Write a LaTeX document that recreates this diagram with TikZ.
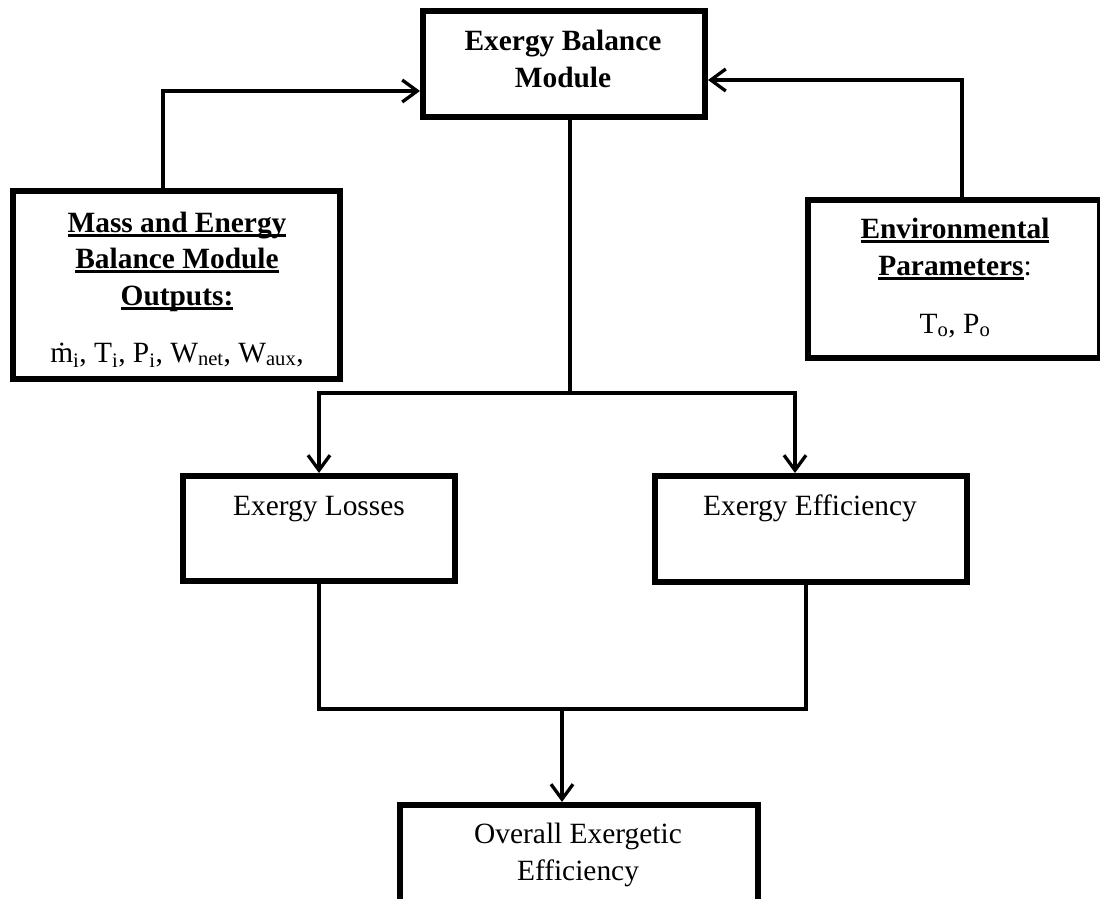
\documentclass[tikz,border=0pt]{standalone}
\usepackage{fontspec}
\setmainfont{Liberation Serif}
\usetikzlibrary{arrows.meta}

% underline with a heavy rule just below the baseline
\newcommand\ulbar[1]{\setbox0\hbox{#1}\rlap{\rule[-4.6pt]{\wd0}{2.8pt}}\box0}

\tikzset{
  block/.style={draw, line width=6pt, rectangle, inner sep=0pt, fill=white},
  % multi-line labels are placed by the baseline of their last line
  txt/.style={align=center, inner sep=0pt, anchor=base,
              font=\fontsize{29.4}{36.5}\selectfont},
  link/.style={line width=3.3pt},
  arr/.style={link, -{Straight Barb[length=15pt,width=22pt]}},
}

\begin{document}
\begin{tikzpicture}[x=1pt, y=1pt]
\useasboundingbox (0,0) rectangle (1100,-899);
\clip (0,0) rectangle (1100,-899);

% boxes
\node[block, minimum width=282, minimum height=106] (ebm) at (564,-64) {};
\node[block, minimum width=327, minimum height=188] (mass) at (176.5,-285) {};
\node[block, minimum width=292, minimum height=158] (env) at (953.5,-279) {};
\node[block, minimum width=272, minimum height=105] (loss) at (319,-528.5) {};
\node[block, minimum width=312, minimum height=106] (eff) at (811,-529) {};
\node[block, minimum width=358, minimum height=122] (overall) at (579,-866) {};

% labels
\node[txt] (ebmtext) at (563,-87) {\textbf{Exergy Balance}\\\textbf{Module}};
\node[txt] (masstext) at (177,-305)
  {\textbf{\ulbar{Mass and Energy}}\\\textbf{\ulbar{Balance Module}}\\\textbf{\ulbar{Outputs:}}};
\node[txt] (massvars) at (177,-362)
  {\.{m}\textsubscript{i}, T\textsubscript{i}, P\textsubscript{i}, W\textsubscript{net}, W\textsubscript{aux},};
\node[txt] (envtext) at (955,-275)
  {\textbf{\ulbar{Environmental}}\\\textbf{\ulbar{Parameters}}:};
\node[txt] (envvars) at (955,-333) {T\textsubscript{o}, P\textsubscript{o}};
\node[txt] (losstext) at (319,-515) {Exergy Losses};
\node[txt] (efftext) at (810,-515) {Exergy Efficiency};
\node[txt] (overalltext) at (578,-880) {Overall Exergetic\\Efficiency};

% inputs into the exergy balance module
\coordinate (inL) at (163,-91);
\coordinate (inR) at (962,-80);
\draw[arr] (mass.north -| inL) |- (ebm.west |- inL);
\draw[arr] (env.north -| inR) |- (ebm.east |- inR);

% split to losses and efficiency
\coordinate (split) at (570,-393);
\coordinate (effin) at (795,-393);
\draw[link] (ebm.south -| split) -- (split);
\draw[arr] (split) -| (loss.north);
\draw[arr] (split) -| (eff.north -| effin);

% merge into overall efficiency
\coordinate (merge) at (562,-709);
\coordinate (effout) at (806,-709);
\draw[link] (loss.south) |- (merge);
\draw[link] (eff.south -| effout) |- (merge);
\draw[arr] (merge) -- (overall.north -| merge);
\end{tikzpicture}
\end{document}
